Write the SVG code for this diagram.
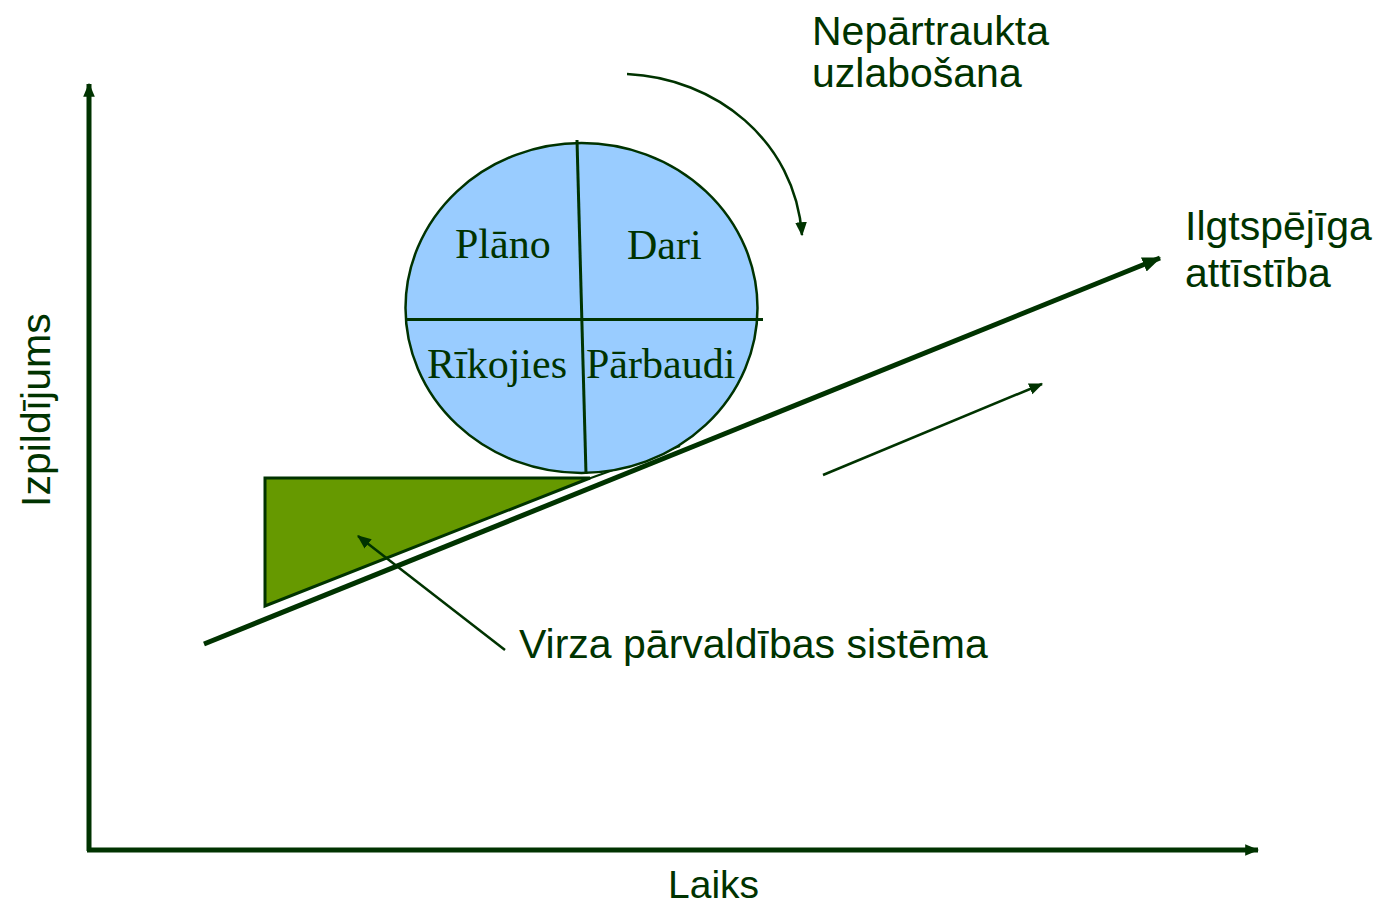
<svg xmlns="http://www.w3.org/2000/svg" width="1385" height="907" viewBox="0 0 1385 907">
<style>
.sans{font-family:"Liberation Sans",Arial,sans-serif;fill:#003300}
.serif{font-family:"Liberation Serif","Times New Roman",serif;fill:#003300;font-size:42px}
.ln{stroke:#003300;fill:none}
</style>
<defs>
<marker id="ah" markerUnits="userSpaceOnUse" markerWidth="20" markerHeight="20" refX="14" refY="6" orient="auto" viewBox="0 0 16 12">
<path d="M0,0 L15,6 L0,12 Z" fill="#003300"/>
</marker>
<marker id="ahs" markerUnits="userSpaceOnUse" markerWidth="14" markerHeight="14" refX="11" refY="5" orient="auto" viewBox="0 0 12 10">
<path d="M0,0 L12,5 L0,10 Z" fill="#003300"/>
</marker>
</defs>
<rect width="1385" height="907" fill="#ffffff"/>
<g id="axes">
<line class="ln" x1="89" y1="851" x2="89" y2="84" stroke-width="5" marker-end="url(#ahs)"/>
<line class="ln" x1="87" y1="850" x2="1258" y2="850" stroke-width="5" marker-end="url(#ahs)"/>
</g>
<g id="triangle">
<polygon points="265,478 590,478 265,606" fill="#669900" stroke="#003300" stroke-width="3"/>
<line class="ln" x1="588" y1="479" x2="680" y2="446" stroke-width="2"/>
</g>
<g id="cycle">
<ellipse cx="581.5" cy="308" rx="176" ry="165" fill="#99ccff" stroke="#003300" stroke-width="2.5"/>
<line class="ln" x1="577" y1="140" x2="586" y2="474" stroke-width="3"/>
<line class="ln" x1="405" y1="319.5" x2="763" y2="319.5" stroke-width="3"/>
<text class="serif" x="455" y="258">Plāno</text>
<text class="serif" x="627" y="259">Dari</text>
<text class="serif" x="427" y="378">Rīkojies</text>
<text class="serif" x="586" y="378">Pārbaudi</text>
</g>
<g id="connectors">
<line class="ln" x1="204" y1="644" x2="1160" y2="258" stroke-width="5" marker-end="url(#ah)"/>
<line class="ln" x1="823" y1="475" x2="1042" y2="384" stroke-width="2.5" marker-end="url(#ahs)"/>
<line class="ln" x1="505" y1="650" x2="358" y2="536" stroke-width="2.5" marker-end="url(#ahs)"/>
<path class="ln" d="M627,74 C715,78 795,140 802,235" stroke-width="2.5" marker-end="url(#ahs)"/>
</g>
<g id="labels">
<text class="sans" font-size="41" x="812" y="45">Nepārtraukta</text>
<text class="sans" font-size="41" x="812" y="87">uzlabošana</text>
<text class="sans" font-size="41" x="1185" y="240">Ilgtspējīga</text>
<text class="sans" font-size="41" x="1185" y="287">attīstība</text>
<text class="sans" font-size="41" x="519" y="658">Virza pārvaldības sistēma</text>
<text class="sans" font-size="39" x="668" y="898">Laiks</text>
<text class="sans" font-size="41" transform="translate(50,507) rotate(-90)">Izpildījums</text>
</g>
</svg>
